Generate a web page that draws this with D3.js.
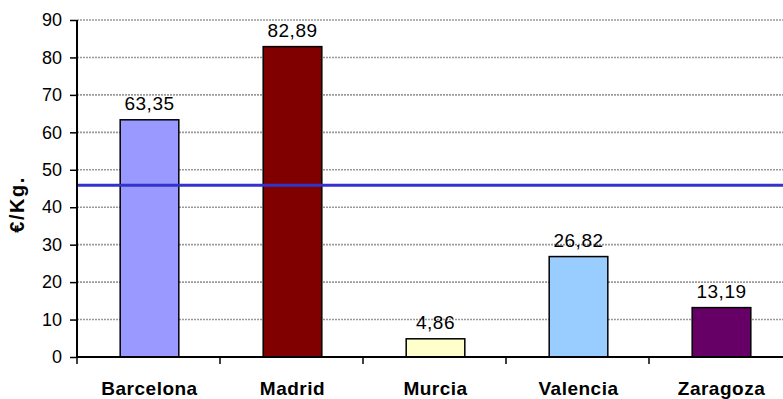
<!DOCTYPE html>
<html lang="es">
<head>
    <title>€/Kg.</title>
    <script src="https://d3js.org/d3.v7.min.js"></script>
    <style>
        body { margin: 0; background: #fff; }
        text { font-family: "Liberation Sans", Arial, sans-serif; }
    </style>
</head>
<body>
    <svg width="783" height="399" id="mainsvg"></svg>

    <script>
        // data
        const cities = ['Barcelona', 'Madrid', 'Murcia', 'Valencia', 'Zaragoza']
        const prices = [63.35, 82.89, 4.86, 26.82, 13.19]
        const barColors = ['#9999ff', '#800000', '#ffffcc', '#99ccff', '#660066']
        const yTicks = [0, 10, 20, 30, 40, 50, 60, 70, 80, 90]
        const refValue = 45.9
        const yAxisLabel = '€/Kg.'

        const svg = d3.select('#mainsvg')
        const margin = {top: 20, left: 77, bottom: 42}
        const height = +svg.attr('height')
        const x0 = margin.left, x1 = 792   // plot runs past the right edge
        const yBottom = height - margin.bottom

        const locale = d3.formatLocale({decimal: ',', thousands: '.', grouping: [3], currency: ['', '€']})
        const fmt = locale.format('.2f')

        const xScale = d3.scaleBand().domain(cities).range([x0, x1]).padding(0)
        const yScale = d3.scaleLinear().domain([0, 90]).range([yBottom, margin.top])

        // gridlines
        svg.append('g').selectAll('line').data(yTicks.filter(d => d > 0)).join('line')
            .attr('x1', x0).attr('x2', 783)
            .attr('y1', d => yScale(d)).attr('y2', d => yScale(d))
            .attr('stroke', '#9a9a9a').attr('stroke-width', 1.6)
            .attr('stroke-dasharray', '2,1')

        // bars
        const bw = xScale.bandwidth() * 0.41
        svg.append('g').selectAll('rect').data(cities).join('rect')
            .attr('x', d => xScale(d) + xScale.bandwidth() / 2 - bw / 2 + 1)
            .attr('y', (d, i) => yScale(prices[i]))
            .attr('width', bw)
            .attr('height', (d, i) => yBottom - yScale(prices[i]))
            .attr('fill', (d, i) => barColors[i])
            .attr('stroke', '#000').attr('stroke-width', 1.5)

        // value labels
        svg.append('g').selectAll('text').data(cities).join('text')
            .attr('x', d => xScale(d) + xScale.bandwidth() / 2 + 1)
            .attr('y', (d, i) => yScale(prices[i]) - 10)
            .attr('text-anchor', 'middle')
            .attr('font-size', 19).attr('letter-spacing', 0.5)
            .text((d, i) => fmt(prices[i]))

        // reference line
        svg.append('line')
            .attr('x1', x0).attr('x2', 783)
            .attr('y1', yScale(refValue)).attr('y2', yScale(refValue))
            .attr('stroke', '#3333cc').attr('stroke-width', 3)

        // y axis
        const yAxis = d3.axisLeft(yScale).tickValues(yTicks).tickSize(7).tickPadding(8)
        const yg = svg.append('g').attr('transform', `translate(${x0}, 0)`).call(yAxis)
        yg.select('.domain').attr('stroke', '#000').attr('stroke-width', 2)
            .attr('d', `M0,${margin.top}V${yBottom}`)
        yg.selectAll('.tick line').attr('stroke-width', 1.5)
        yg.selectAll('.tick text').attr('font-size', 18).attr('fill', '#000')
            .attr('font-family', '"Liberation Sans", Arial, sans-serif')

        // x axis
        const xg = svg.append('g').attr('transform', `translate(0, ${yBottom})`)
        xg.append('line').attr('x1', x0).attr('x2', 783).attr('stroke', '#000').attr('stroke-width', 2)
        xg.selectAll('line.tk').data(cities).join('line').attr('class', 'tk')
            .attr('x1', d => xScale(d)).attr('x2', d => xScale(d))
            .attr('y1', 0).attr('y2', 7).attr('stroke', '#000').attr('stroke-width', 1.5)
        xg.selectAll('text').data(cities).join('text')
            .attr('x', d => xScale(d) + xScale.bandwidth() / 2 + 1)
            .attr('y', 38)
            .attr('text-anchor', 'middle')
            .attr('font-size', 19).attr('font-weight', 'bold').attr('letter-spacing', 0.5)
            .text(d => d)

        // y axis title
        svg.append('text')
            .attr('transform', `translate(24, ${(margin.top + yBottom) / 2 + 16}) rotate(-90)`)
            .attr('text-anchor', 'middle')
            .attr('font-size', 20).attr('font-weight', 'bold').attr('letter-spacing', 1.5)
            .text(yAxisLabel)
    </script>
</body>
</html>
